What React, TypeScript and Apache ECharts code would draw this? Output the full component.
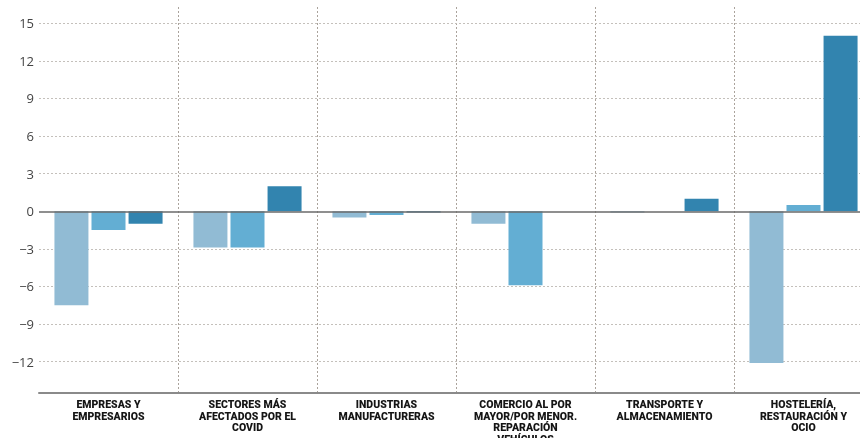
import React, { useEffect, useRef } from "react";
import * as echarts from "echarts";

const categories = [
  "EMPRESAS Y\nEMPRESARIOS",
  "SECTORES MÁS\nAFECTADOS POR EL\nCOVID",
  "INDUSTRIAS\nMANUFACTURERAS",
  "COMERCIO AL POR\nMAYOR/POR MENOR.\nREPARACIÓN\nVEHÍCULOS",
  "TRANSPORTE Y\nALMACENAMIENTO",
  "HOSTELERÍA,\nRESTAURACIÓN Y\nOCIO",
];

const serie1 = [-7.5, -2.9, -0.5, -1.0, -0.1, -12.1];
const serie2 = [-1.5, -2.9, -0.3, -5.9, 0, 0.5];
const serie3 = [-1.0, 2.0, -0.1, 0, 1.0, 14.0];

const tickValues = [-12, -9, -6, -3, 0, 3, 6, 9, 12, 15];

const colors = ["#91bbd4", "#63aed3", "#3284af"];

export default function App() {
  const ref = useRef<HTMLDivElement>(null);
  useEffect(() => {
    if (!ref.current) return;
    const chart = echarts.init(ref.current, null, { renderer: "svg" });
    const gridLines = tickValues
      .filter((v) => v !== 0)
      .map((v) => ({ yAxis: v }));
    chart.setOption({
      animation: false,
      grid: {
        left: 39,
        top: 7,
        width: 834,
        bottom: 45,
        containLabel: false,
        outerBoundsMode: "none",
      },
      xAxis: {
        type: "category",
        data: categories,
        axisLine: { onZero: false, lineStyle: { color: "#8a8a8a", width: 2 } },
        axisTick: { show: false },
        axisLabel: {
          interval: 0,
          margin: 6,
          fontFamily: "Roboto",
          fontWeight: 900,
          fontSize: 10.5,
          lineHeight: 11.5,
          color: "#151515",
        },
        splitLine: {
          show: true,
          interval: (i: number) => i > 0,
          lineStyle: { type: [2, 2], color: "#aaa39c", width: 1 },
        },
      },
      yAxis: {
        type: "value",
        min: -14.5,
        max: 16.3,
        axisLine: { show: false },
        axisTick: { show: false },
        splitLine: { show: false },
        axisLabel: {
          customValues: tickValues,
          margin: 5,
          fontFamily: "Open Sans",
          fontSize: 13,
          color: "#444",
          formatter: (v: number) => String(v).replace("-", "\u2212"),
        },
      },
      series: [
        {
          type: "bar",
          data: serie1,
          barWidth: 34,
          barGap: "9%",
          itemStyle: { color: colors[0] },
          markLine: {
            silent: true,
            symbol: "none",
            label: { show: false },
            lineStyle: { type: [2, 2], color: "#c4c0bb", width: 1 },
            data: gridLines,
            z: 0,
          },
        },
        {
          type: "bar",
          data: serie2,
          barWidth: 34,
          barGap: "9%",
          itemStyle: { color: colors[1] },
          markLine: {
            silent: true,
            symbol: "none",
            label: { show: false },
            lineStyle: { type: "solid", color: "#6a6a6a", width: 1.5 },
            data: [{ yAxis: 0 }],
          },
        },
        {
          type: "bar",
          data: serie3,
          barWidth: 34,
          barGap: "9%",
          itemStyle: { color: colors[2] },
        },
      ],
    });
    return () => chart.dispose();
  }, []);
  return (
    <div
      ref={ref}
      style={{ position: "fixed", left: 0, top: 0, width: 860, height: 438 }}
    />
  );
}
